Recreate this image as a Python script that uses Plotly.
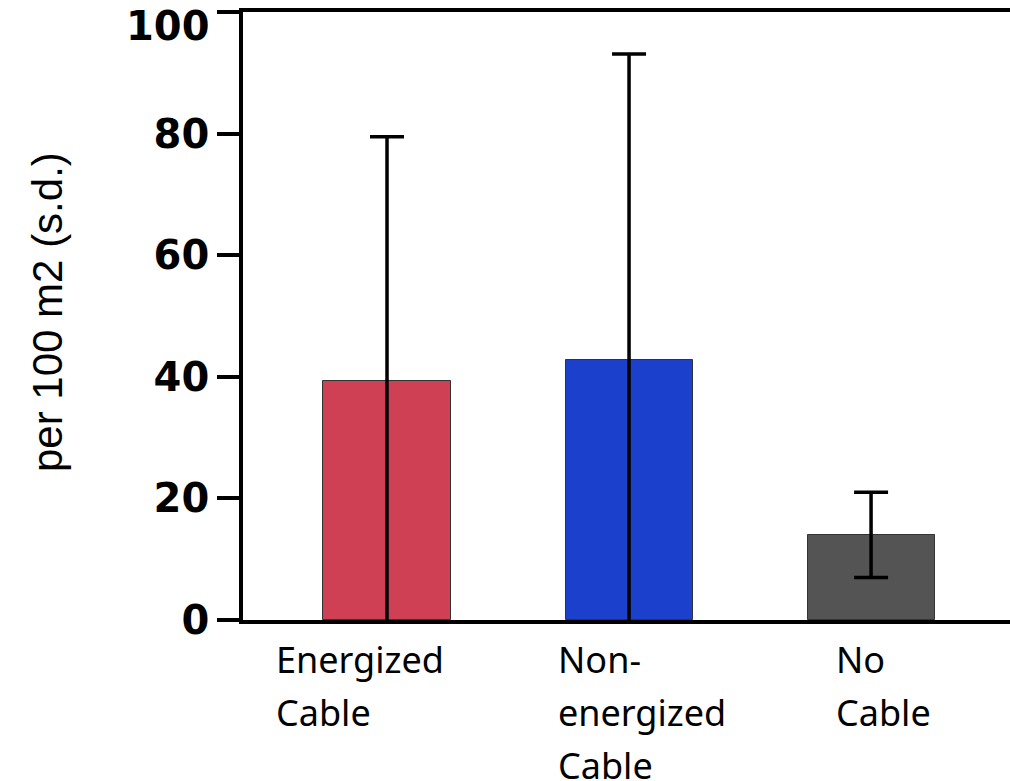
import plotly.graph_objects as go

categories = ["Energized Cable", "Non-energized Cable", "No Cable"]
label_lines = [["Energized", "Cable"], ["Non-", "energized", "Cable"], ["No", "Cable"]]
means = [39.3, 42.8, 14.0]
sds = [40.2, 50.3, 7.0]
colors = ["#D04055", "#1A40CC", "#545454"]
yticks = [0, 20, 40, 60, 80, 100]
ytitle = "per 100 m2 (s.d.)"

xpos = list(range(len(categories)))

fig = go.Figure()
fig.add_trace(go.Bar(
    x=xpos, y=means, width=0.525,
    marker=dict(color=colors, line=dict(color="#333333", width=1)),
    error_y=dict(type="data", array=sds, visible=True, color="black", thickness=3.5, width=17),
    showlegend=False,
))

label_shift = [-113, -73, -37]
for i, lines in enumerate(label_lines):
    for j, line in enumerate(lines):
        fig.add_annotation(
            x=xpos[i], y=0, xref="x", yref="y",
            text=line, showarrow=False,
            xanchor="left", yanchor="top", align="left",
            xshift=label_shift[i], yshift=-13 - 53 * j,
            font=dict(family="Noto Sans, sans-serif", size=36, color="black"),
        )

tickfont = dict(family="DejaVu Sans", size=40, color="black", weight="bold")
# the top label is pushed down to stay inside the page, as in the reference
fig.add_annotation(
    x=0, y=yticks[-1], xref="paper", yref="y", text=str(yticks[-1]),
    showarrow=False, xanchor="right", yanchor="top", xshift=-31, yshift=11,
    font=tickfont,
)
fig.add_annotation(
    x=-(243 - 47) / 767, y=(620 - 312) / 608, xref="paper", yref="paper",
    text=ytitle, textangle=-90, showarrow=False, xanchor="center", yanchor="middle",
    font=dict(family="Liberation Sans, Arial", size=42, color="black"),
)

fig.update_layout(
    width=1010, height=781,
    margin=dict(l=243, r=0, t=12, b=161, autoexpand=False),
    plot_bgcolor="white", paper_bgcolor="white",
    bargap=0,
)
fig.update_xaxes(
    range=[-0.595, 2.574], showticklabels=False, ticks="",
    showline=True, linecolor="black", linewidth=3.5, mirror=True,
    showgrid=False, zeroline=False, automargin=False,
)
fig.update_yaxes(
    range=[0, 100], tickvals=yticks,
    ticktext=[str(v) if v != yticks[-1] else "" for v in yticks],
    ticks="outside", ticklen=22, tickwidth=3.5, tickcolor="black",
    showline=True, linecolor="black", linewidth=3.5,
    showgrid=False, zeroline=False, automargin=False,
    tickfont=tickfont,
)

fig.write_html(
    "out.html",
    config={"displayModeBar": False},
    post_script="document.body.style.margin='0';document.body.style.overflow='hidden';",
)
